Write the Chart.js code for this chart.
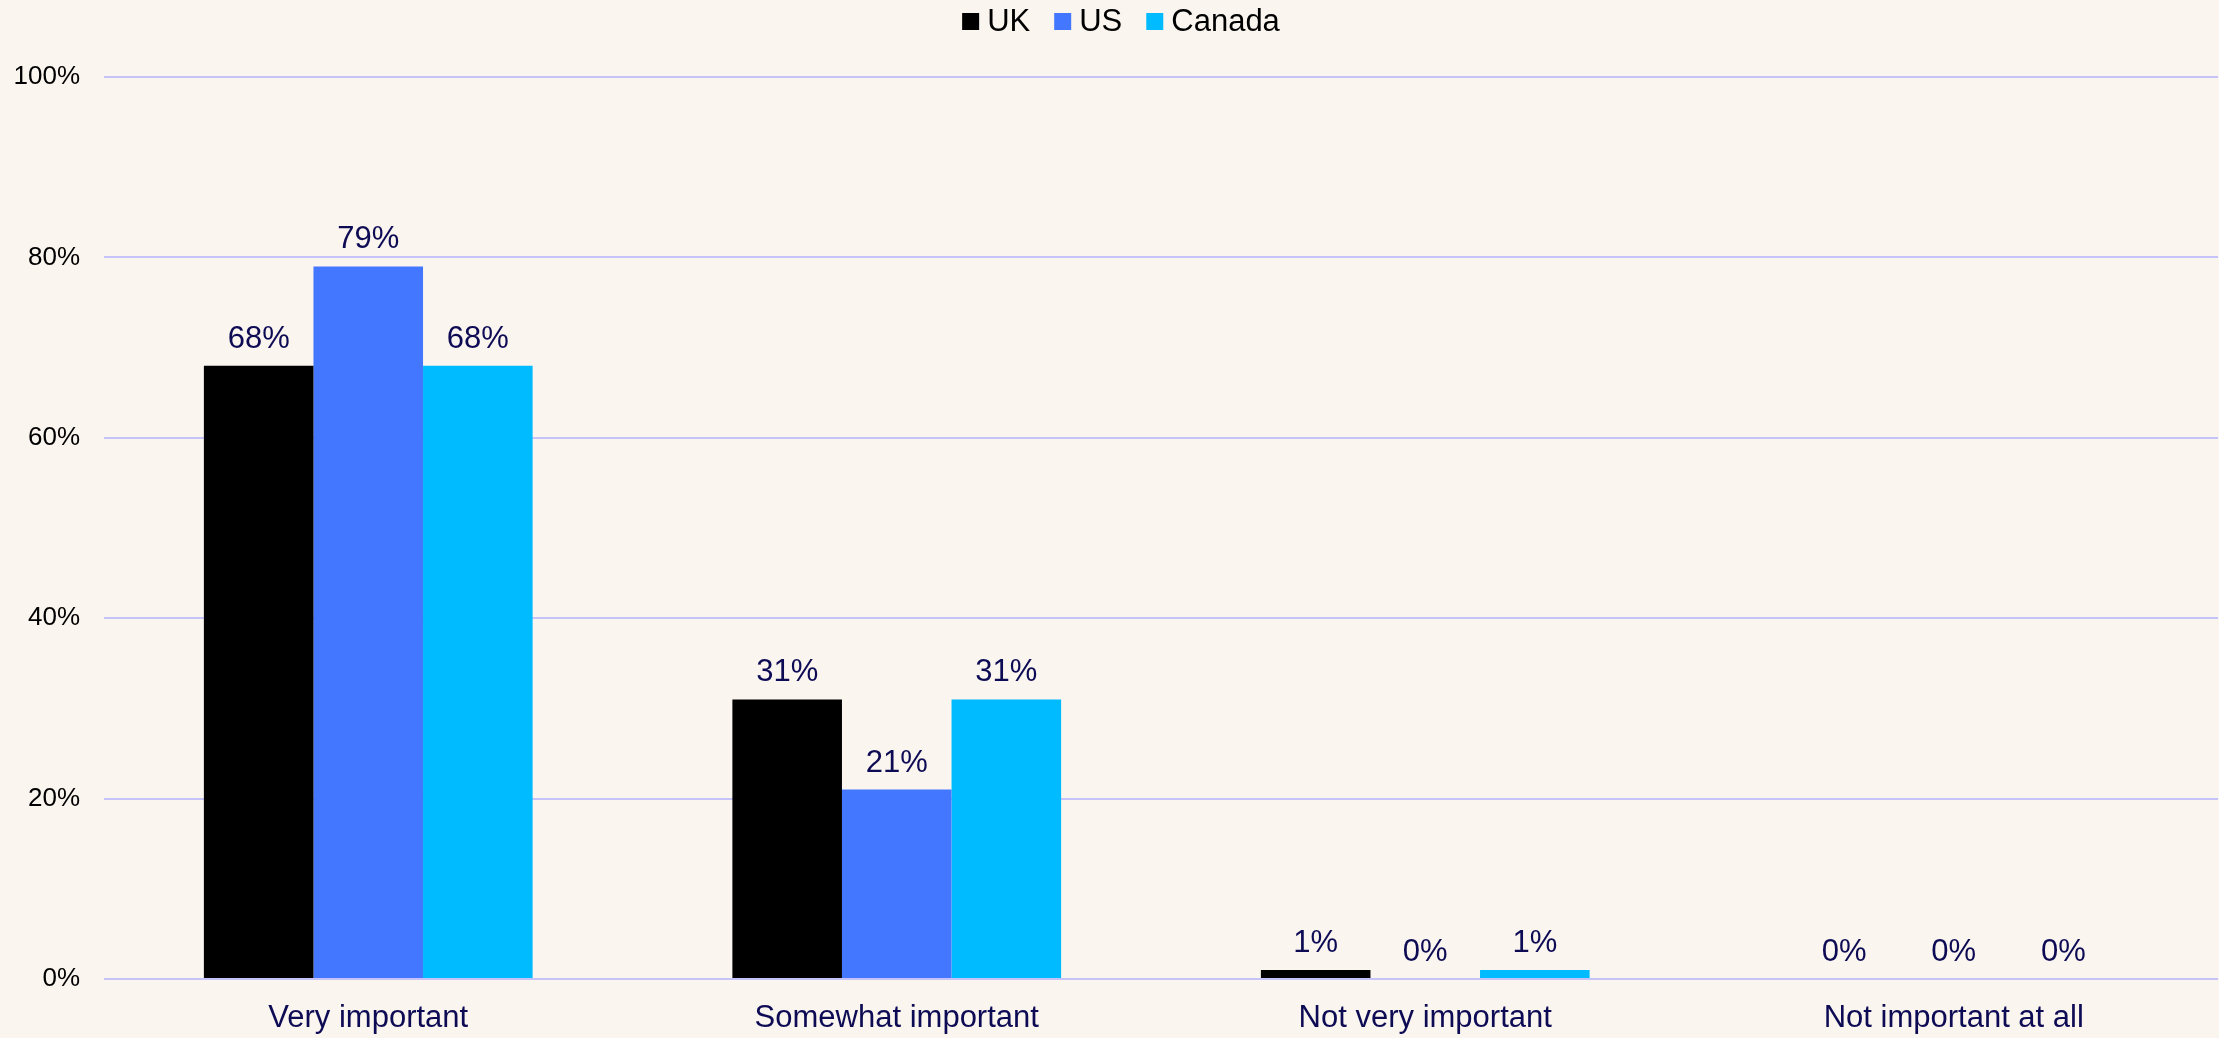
<!DOCTYPE html>
<html>
<head>
<meta charset="utf-8">
<script src="https://cdn.jsdelivr.net/npm/chart.js@4/dist/chart.umd.min.js"></script>
<style>
  html, body { margin: 0; padding: 0; background: #FAF5EF; }
  #wrap { width: 2219px; height: 1038px; }
</style>
</head>
<body>
<div id="wrap"><canvas id="c" width="2219" height="1038"></canvas></div>
<script>
const categories = ["Very important", "Somewhat important", "Not very important", "Not important at all"];
const seriesNames = ["UK", "US", "Canada"];
const ukValues = [68, 31, 1, 0];
const usValues = [79, 21, 0, 0];
const canadaValues = [68, 31, 1, 0];
const yTicks = [0, 20, 40, 60, 80, 100];
const seriesColors = ['#000000', '#4477FF', '#00BBFF'];

const FONT = "'Liberation Sans', Arial, sans-serif";
const NAVY = "#0E0B55";

const bgPlugin = {
  id: 'bg',
  beforeDraw(chart) {
    const ctx = chart.ctx;
    ctx.save();
    ctx.fillStyle = '#FAF5EF';
    ctx.fillRect(0, 0, chart.width, chart.height);
    ctx.restore();
  }
};

// Compact legend: box 17px, 8px gap to text, 24px between items
const legendPlugin = {
  id: 'compactLegend',
  afterDraw(chart) {
    const ctx = chart.ctx;
    ctx.save();
    ctx.font = "31px " + FONT;
    ctx.textBaseline = 'middle';
    ctx.textAlign = 'left';
    const box = 17, gap = 8, itemGap = 24;
    const items = chart.data.datasets.map(ds => ({ text: ds.label, color: ds.backgroundColor }));
    let total = 0;
    items.forEach((it, i) => {
      it.w = ctx.measureText(it.text).width;
      total += box + gap + it.w + (i < items.length - 1 ? itemGap : 0);
    });
    let x = 1121 - total / 2;
    const cy = 21.5;
    items.forEach(it => {
      ctx.fillStyle = it.color;
      ctx.fillRect(x, cy - box / 2, box, box);
      x += box + gap;
      ctx.fillStyle = '#000000';
      ctx.fillText(it.text, x, cy + 1);
      x += it.w + itemGap;
    });
    ctx.restore();
  }
};

const labelPlugin = {
  id: 'valLabels',
  afterDatasetsDraw(chart) {
    const ctx = chart.ctx;
    ctx.save();
    ctx.font = "31px " + FONT;
    ctx.fillStyle = NAVY;
    ctx.textAlign = 'center';
    ctx.textBaseline = 'alphabetic';
    chart.data.datasets.forEach((ds, di) => {
      const meta = chart.getDatasetMeta(di);
      meta.data.forEach((el, i) => {
        ctx.fillText(ds.data[i] + '%', el.x, el.y - 18);
      });
    });
    ctx.restore();
  }
};

new Chart(document.getElementById('c'), {
  type: 'bar',
  data: {
    labels: categories,
    datasets: [
      { label: seriesNames[0], data: ukValues, backgroundColor: seriesColors[0] },
      { label: seriesNames[1], data: usValues, backgroundColor: seriesColors[1] },
      { label: seriesNames[2], data: canadaValues, backgroundColor: seriesColors[2] }
    ]
  },
  options: {
    responsive: false,
    animation: false,
    devicePixelRatio: 1,
    layout: { padding: { top: 77, right: 1, left: 0, bottom: 0 } },
    datasets: { bar: { categoryPercentage: 0.622, barPercentage: 1.0, borderWidth: 0 } },
    plugins: {
      tooltip: { enabled: false },
      legend: { display: false },
      title: { display: false }
    },
    scales: {
      x: {
        grid: { display: false },
        border: { display: false },
        ticks: {
          font: { family: FONT, size: 31 },
          color: NAVY,
          padding: 13,
          maxRotation: 0
        },
        afterFit(s) { s.height = 59; }
      },
      y: {
        min: 0,
        max: 100,
        afterBuildTicks(s) { s.ticks = yTicks.map(v => ({ value: v })); },
        grid: { color: '#C6C3FA', lineWidth: 2, drawTicks: false },
        border: { display: false },
        ticks: {
          font: { family: FONT, size: 26 },
          color: '#000000',
          padding: 24,
          callback: v => v + '%'
        },
        afterFit(s) { s.width = 104; }
      }
    }
  },
  plugins: [bgPlugin, labelPlugin, legendPlugin]
});
</script>
</body>
</html>
